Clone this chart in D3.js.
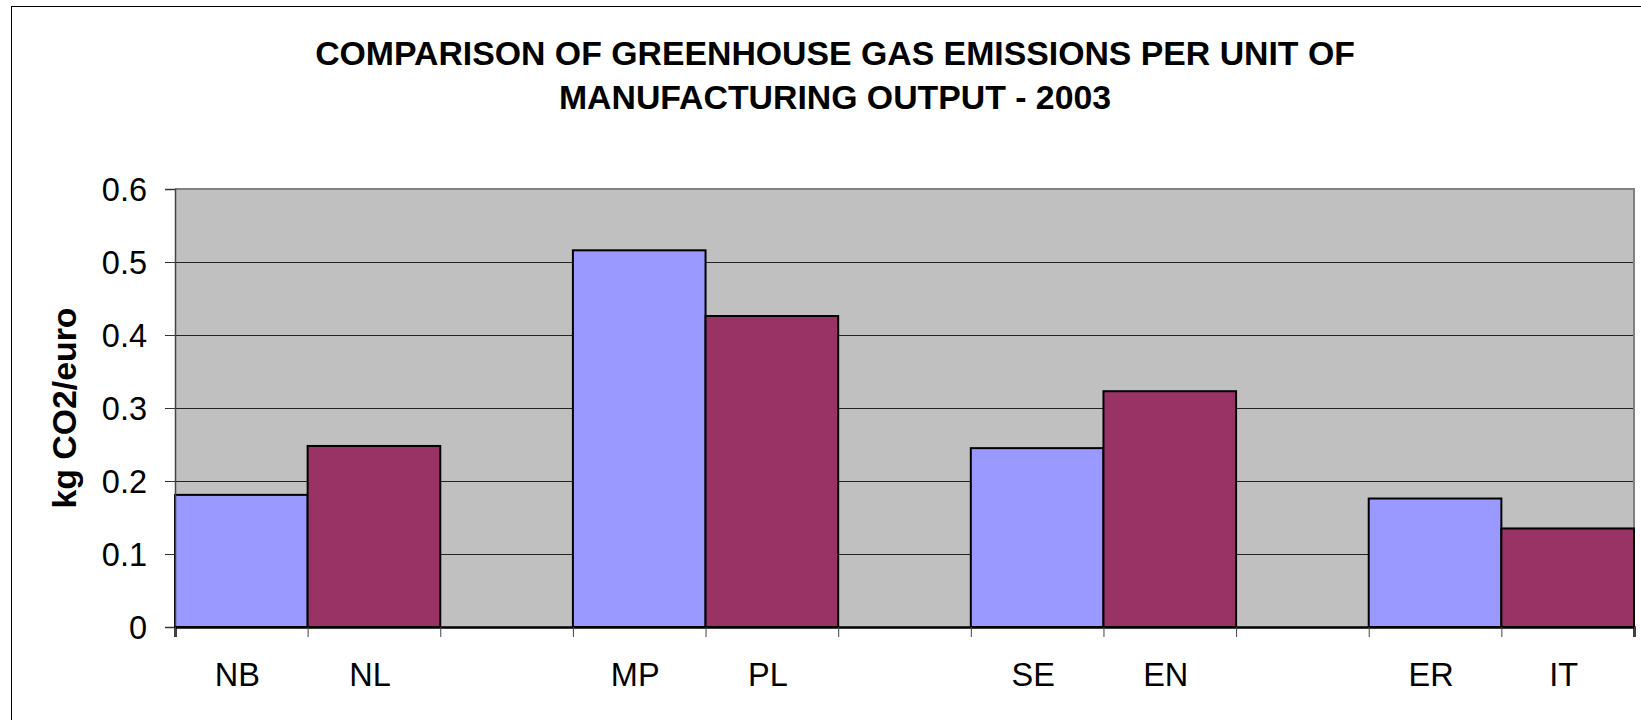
<!DOCTYPE html>
<html>
<head>
<meta charset="utf-8">
<script src="https://cdn.jsdelivr.net/npm/d3@7"></script>
<style>
  html, body { margin: 0; padding: 0; background: #fff; overflow: hidden; }
  svg { display: block; font-family: "Liberation Sans", Arial, Helvetica, sans-serif; }
</style>
</head>
<body>
<svg id="chart" width="1641" height="720"></svg>
<script>
// ---- data ----
const titleLines = ["COMPARISON OF GREENHOUSE GAS EMISSIONS PER UNIT OF", "MANUFACTURING OUTPUT - 2003"];
const yAxisTitle = "kg CO2/euro";
const categories = ["NB", "NL", "", "MP", "PL", "", "SE", "EN", "", "ER", "IT"];
const values     = [0.181, 0.248, null, 0.516, 0.426, null, 0.245, 0.323, null, 0.176, 0.135];
const seriesIds  = ["A", "B", null, "A", "B", null, "A", "B", null, "A", "B"];
const yTicks     = [0, 0.1, 0.2, 0.3, 0.4, 0.5, 0.6];

// ---- style ----
const seriesColor = { A: "#9999FF", B: "#993366" };
const plot = { left: 175, right: 1634, top: 189, bottom: 627 };

const svg = d3.select("#chart");

// outer chart border (extends beyond the visible window, like the reference)
svg.append("rect")
  .attr("x", 11.5).attr("y", 6.5)
  .attr("width", 1700).attr("height", 800)
  .attr("fill", "#fff").attr("stroke", "#000").attr("stroke-width", 1);

// title
svg.append("g").selectAll("text").data(titleLines).join("text")
  .attr("x", 835).attr("y", (d, i) => 65 + i * 44)
  .attr("text-anchor", "middle")
  .attr("font-size", 33.8).attr("font-weight", "bold").attr("fill", "#000")
  .text(d => d);

// scales
const idx = d3.range(categories.length);
const x = d3.scaleBand().domain(idx).range([plot.left, plot.right]).padding(0);
const xEdge = d3.scaleLinear().domain([0, categories.length]).range([plot.left, plot.right]);
const y = d3.scaleLinear().domain([0, 0.6]).range([plot.bottom, plot.top]);

// plot background
svg.append("rect")
  .attr("x", plot.left).attr("y", plot.top)
  .attr("width", plot.right - plot.left).attr("height", plot.bottom - plot.top)
  .attr("fill", "#C0C0C0");

// gridlines
svg.append("g").selectAll("line").data(yTicks.filter(d => d > 0 && d < 0.6)).join("line")
  .attr("x1", plot.left).attr("x2", plot.right)
  .attr("y1", d => Math.round(y(d)) + 0.5).attr("y2", d => Math.round(y(d)) + 0.5)
  .attr("stroke", "#222").attr("stroke-width", 1);

// plot frame top/right (gray)
svg.append("path")
  .attr("d", `M${plot.left},${plot.top} H${plot.right} V${plot.bottom}`)
  .attr("fill", "none").attr("stroke", "#808080").attr("stroke-width", 2);

// bars
svg.append("g").selectAll("rect")
  .data(idx.filter(i => values[i] != null))
  .join("rect")
  .attr("x", i => x(i))
  .attr("y", i => y(values[i]))
  .attr("width", x.bandwidth())
  .attr("height", i => y(0) - y(values[i]))
  .attr("fill", i => seriesColor[seriesIds[i]])
  .attr("stroke", "#000").attr("stroke-width", 2);

// y axis
const yAxis = svg.append("g")
  .attr("transform", `translate(${plot.left},0)`)
  .call(d3.axisLeft(y).tickValues(yTicks).tickSize(10).tickPadding(18)
    .tickFormat(d => d === 0 ? "0" : d.toFixed(1)));
yAxis.select(".domain").attr("stroke", "#444").attr("stroke-width", 1.5);
yAxis.selectAll(".tick line").attr("stroke", "#333");
yAxis.selectAll("text").attr("font-size", 32.5).attr("fill", "#000")
  .attr("font-family", "'Liberation Sans', Arial, sans-serif").attr("dy", "0.35em");

// x axis: tick marks at category boundaries
const xTicks = svg.append("g")
  .attr("transform", `translate(0,${plot.bottom})`)
  .call(d3.axisBottom(xEdge).tickValues(d3.range(categories.length + 1)).tickSize(10).tickFormat(""));
xTicks.select(".domain").attr("stroke", "#000").attr("stroke-width", 2.5);
xTicks.selectAll(".tick line").attr("stroke", "#444");

// x axis labels
const xLabels = svg.append("g")
  .attr("transform", `translate(0,${plot.bottom})`)
  .call(d3.axisBottom(x).tickSize(0).tickPadding(0).tickFormat(i => categories[i]));
xLabels.select(".domain").remove();
xLabels.selectAll("text").attr("font-size", 32.5).attr("fill", "#000")
  .attr("font-family", "'Liberation Sans', Arial, sans-serif")
  .attr("dy", null).attr("y", 59).attr("dx", -4);

// y axis title
svg.append("text")
  .attr("transform", `translate(76,${(plot.top + plot.bottom) / 2}) rotate(-90)`)
  .attr("text-anchor", "middle")
  .attr("font-size", 33.8).attr("font-weight", "bold").attr("fill", "#000")
  .text(yAxisTitle);
</script>
</body>
</html>
